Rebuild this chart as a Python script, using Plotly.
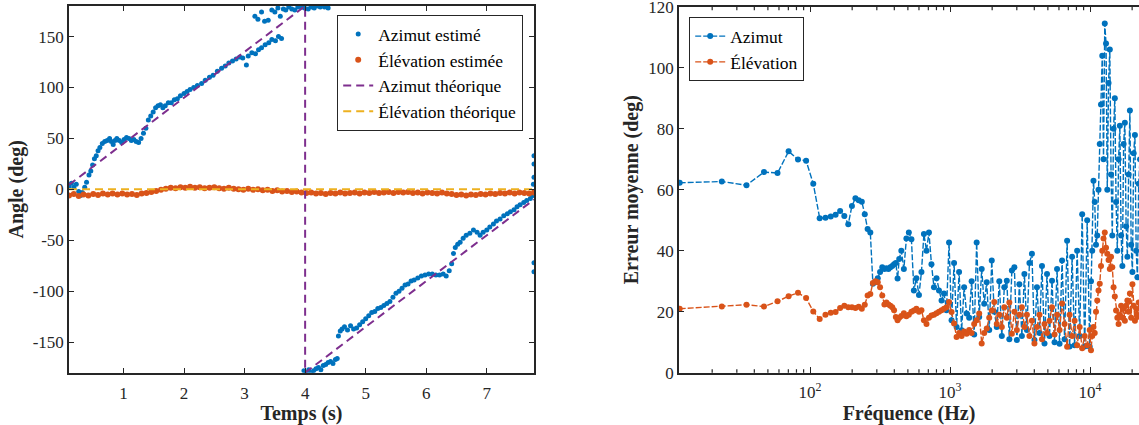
import plotly.graph_objects as go

# ---------------- Left panel data ----------------
az_t = [0.10,0.14,0.18,0.22,0.26,0.29,0.32,0.36,0.39,0.43,0.46,0.49,0.52,0.55,0.58,0.61,0.65,0.69,0.73,0.77,
        0.80,0.83,0.86,0.89,0.93,0.97,1.01,1.05,1.09,1.13,1.17,1.21,1.25,1.29,1.33,1.37,1.41,1.45,1.49,1.53,
        1.57,1.61,1.65,1.69,1.74,1.79,1.84,1.89,1.94,2.00,2.05,2.10,2.16,2.22,2.29,2.35,2.42,2.48,2.55,2.62,
        2.68,2.74,2.80,2.86,2.92,2.97,3.03,3.06,3.12,3.18,3.23,3.28,3.34,3.40,3.45,3.51,3.56,3.61,
        3.17,3.22,3.28,3.33,3.39,3.45,3.50,3.55,3.59,3.64,3.68,3.73,3.78,3.83,3.88,3.94,3.99,4.05,4.10,4.15,
        4.20,4.25,4.32,4.38,
        3.98,4.02,4.06,4.10,4.14,4.18,4.22,4.26,4.30,4.34,4.38,4.42,4.46,4.50,4.53,4.55,4.58,4.61,4.65,4.70,
        4.75,4.80,4.85,4.90,4.95,5.00,5.05,5.10,5.15,5.20,5.25,5.30,5.35,5.40,5.45,5.50,5.55,5.60,5.65,5.70,
        5.75,5.80,5.86,5.92,5.98,6.04,6.10,6.16,6.22,6.28,6.33,6.38,6.42,6.45,6.48,6.52,6.56,6.61,6.66,6.72,
        6.78,6.84,6.89,6.94,7.00,7.05,7.11,7.16,7.22,7.28,7.34,7.39,7.45,7.50,7.55,7.61,7.66,7.72,7.76,7.77,
        7.78,7.78,7.78,7.78,7.78]
az_est = [3,6,2,5,-2,-6,-3,2,7,14,18,24,30,33,38,41,45,47,48,50,
          47,44,48,50,48,46,49,51,50,48,49,47,46,50,55,60,68,72,76,80,
          82,83,80,82,85,85,88,89,92,94,96,98,100,102,104,107,110,112,116,119,
          121,124,126,128,130,129,122,131,134,133,137,139,142,144,147,146,150,148,
          170,167,174,165,166,176,174,178,170,177,176,179,177,176,179,179,178,177,179,178,
          180,179,179,178,
          -178,-180,-177,-180,-178,-176,-175,-177,-173,-172,-170,-169,-171,-167,-166,-144,-139,-137,-135,-138,
          -134,-137,-136,-133,-130,-127,-124,-121,-120,-117,-116,-114,-112,-110,-106,-102,-100,-97,-94,-93,
          -90,-89,-87,-85,-84,-83,-83,-84,-84,-83,-85,-80,-73,-63,-57,-54,-52,-48,-45,-43,
          -40,-42,-45,-42,-40,-37,-34,-31,-29,-26,-24,-22,-20,-17,-15,-13,-11,-9,-6,5,
          12,25,33,-72,-81]

el_t = [0.10,0.18,0.26,0.34,0.42,0.50,0.58,0.66,0.74,0.82,0.90,0.98,1.06,1.14,1.22,1.30,1.38,1.46,1.54,1.62,
        1.70,1.78,1.86,1.94,2.02,2.10,2.18,2.26,2.34,2.42,2.50,2.58,2.66,2.74,2.82,2.90,2.98,3.06,3.14,3.22,
        3.30,3.38,3.46,3.54,3.62,3.70,3.78,3.86,3.94,4.02,4.10,4.18,4.26,4.34,4.42,4.50,4.58,4.66,4.74,4.82,
        4.90,4.98,5.06,5.14,5.22,5.30,5.38,5.46,5.54,5.62,5.70,5.78,5.86,5.94,6.02,6.10,6.18,6.26,6.34,6.42,
        6.50,6.58,6.66,6.74,6.82,6.90,6.98,7.06,7.14,7.22,7.30,7.38,7.46,7.54,7.62,7.70,7.78]
el_est = [-6,-4.5,-6.5,-5,-6,-4.5,-5.5,-4,-5,-4,-5,-4,-5,-4.5,-5.5,-4,-3.5,-2.5,-1.5,-0.5,
          0.5,1.5,1,2,1.5,2.5,1.5,2,1,1.5,2,1,0.5,1.5,0.5,0,-0.5,0.5,-0.5,0,
          -1,-0.5,-1.5,-1,-2,-1.5,-2.5,-2,-3,-3.5,-3,-4,-3.5,-4.5,-3.5,-4,-3,-4,-3.5,-3,
          -4,-3,-3.5,-2.5,-3.5,-3,-2.5,-3.5,-2.5,-3,-2.5,-3.5,-3,-4,-3,-3.5,-4,-3,-4,-4.5,
          -5.5,-5,-6,-5,-5.5,-4.5,-5,-4,-4.5,-3.5,-4,-3,-4,-3,-3.5,-4,-3]

az_th_t = [0.10, 4.00, 4.00, 7.78]
az_th = [4.5, 180, -180, -10]
el_th_t = [0.10, 7.78]
el_th = [0, 0]

left_x_ticks = [1, 2, 3, 4, 5, 6, 7]
left_y_ticks = [-150, -100, -50, 0, 50, 100, 150]
left_y_labels = ["-150", "-100", "-50", "0", "50", "100", "150"]

# ---------------- Right panel data ----------------
freq_hz = [11.72,23.44,35.16,46.88,58.59,70.31,82.03,93.75,105.47,117.19,128.91,140.63,152.34,164.06,175.78,
           187.5,199.22,210.94,222.66,234.38,246.09,257.81,269.53,281.25,292.97,304.69,316.41,328.13,339.84,
           351.56,363.28,375.0,386.72,398.44,410.16,421.88,433.59,
           449,468,488,508,530,552,575,600,625,651,679,707,737,768,801,834,870,906,944,984,
           1026,1069,1114,1161,1210,1261,1314,1370,1427,1488,1550,1616,1684,1755,1829,1906,1987,2070,2158,2249,
           2344,2442,2545,2653,2765,2881,3003,3129,3261,3399,3542,3692,3847,4010,4179,4355,4539,4730,4930,5138,
           5354,5580,5816,6061,6317,6583,6861,7150,7452,7766,8094,8435,8791,9162,9548,9951,
           10160,10371,10589,10808,11035,11264,11500,11739,11985,12234,12490,12750,13017,13288,13566,13849,
           14139,14433,14735,15042,15357,15676,16004,16338,16679,17027,17383,17745,18117,18494,18881,19274,
           19678,20087,20508,20935,21374,21818,22276,22738]
az_err = [62.3,62.7,61.5,65.8,65.5,72.6,69.9,69.5,62.0,50.7,50.8,51.2,51.8,53.0,51.4,
          48.7,54.7,57.2,56.6,56.1,52.0,47.1,46.0,29.2,29.7,31.0,33.0,34.6,34.0,
          34.3,34.0,34.6,35.0,35.6,36.0,30.9,37.3,
          40,34,44,46,43.8,27,31,25.5,33,45.5,40,46,35.6,28,31,27,23.7,26,20.5,42.7,
          17.2,36,15,33,13.9,28,19.4,18,30,12.5,42.7,18.3,34,22.6,29.7,14,36.8,20,15,30,
          12,28,30.2,11,33.5,34.6,10.7,29,12,32.4,14,36,39,10.7,28,13,35,9.6,32.4,12,
          30.2,10,34,9.5,36.8,11,43.3,8.6,38,9,40,12,52,8.6,50,8.5,
          30,40,63,56,42,45,60,75,88,104,70,114.5,108,60,95,106,
          65,45,80,90,56,40,70,81,45,35,75,82,48,38,65,86,
          42,33,72,78,40,31.3,62,70]
el_err = [21.0,21.7,22.3,21.7,23.4,25.1,26.2,24.5,20.1,17.6,19.0,19.7,19.9,21.2,22.0,
          21.5,21.5,21.2,21.6,21.0,22.3,25.3,25.8,29.4,30.0,29.7,28.0,25.3,22.4,
          23.0,22.4,22.0,21.5,20.5,18.3,17.2,18.0,
          18.6,19.5,18.5,19,20,20.4,21,20,20.5,17.2,16,18,18.8,19,19.5,20,20.5,21,21.5,23.2,
          19.9,16.1,11.7,13,12,13.5,12.8,14,13,16,17.2,19.4,9.6,13,14.5,18,20.4,23.2,16,19,
          15,21.5,18,23,12.8,20,14,19,21.5,15,19,12,17,9.6,15,19,11,16,13,17,
          21.5,12.5,19,14,22.7,16,8.5,19,12,17,9,15,8,12,9,14,
          7.4,12,15,13,20,23.7,27,29.2,35,40,44,46,41,39,37,34,
          38,34.6,28,25,20.4,18,16,19,22,18,21,17,22,23.7,20,26,
          18,29,22,17,21,18.3,23,19]

right_x_ticks = [100, 1000, 10000]
right_x_labels = ["10<sup>2</sup>", "10<sup>3</sup>", "10<sup>4</sup>"]
right_x_minor = [20, 30, 40, 50, 60, 70, 80, 90,
                 200, 300, 400, 500, 600, 700, 800, 900,
                 2000, 3000, 4000, 5000, 6000, 7000, 8000, 9000, 20000]
right_y_ticks = [0, 20, 40, 60, 80, 100, 120]

BLUE = "#0072BD"
ORANGE = "#D95319"
PURPLE = "#7E2F8E"
YELLOW = "#EDB120"
AX = "#262626"
FONT = "Liberation Serif"

H = 425.0
L_DOM_Y = [1 - 372.7 / H, 1 - 6 / H]
R_DOM_Y = [1 - 372.7 / H, 1 - 6.7 / H]

fig = go.Figure()

fig.add_trace(go.Scatter(x=az_t, y=az_est, mode="markers", name="Azimut estimé",
                         marker=dict(color=BLUE, size=5), xaxis="x", yaxis="y", legend="legend"))
fig.add_trace(go.Scatter(x=el_t, y=el_est, mode="markers", name="Élévation estimée",
                         marker=dict(color=ORANGE, size=6), xaxis="x", yaxis="y", legend="legend"))
fig.add_trace(go.Scatter(x=az_th_t, y=az_th, mode="lines", name="Azimut théorique",
                         line=dict(color=PURPLE, width=2, dash="8px,5px"), xaxis="x", yaxis="y", legend="legend"))
fig.add_trace(go.Scatter(x=el_th_t, y=el_th, mode="lines", name="Élévation théorique",
                         line=dict(color=YELLOW, width=2, dash="8px,5px"), xaxis="x", yaxis="y", legend="legend"))

fig.add_trace(go.Scatter(x=freq_hz, y=az_err, mode="lines+markers", name="Azimut",
                         line=dict(color=BLUE, width=1.4, dash="6px,2px"), marker=dict(color=BLUE, size=6),
                         xaxis="x2", yaxis="y2", legend="legend2"))
fig.add_trace(go.Scatter(x=freq_hz, y=el_err, mode="lines+markers", name="Élévation",
                         line=dict(color=ORANGE, width=1.4, dash="6px,2px"), marker=dict(color=ORANGE, size=6),
                         xaxis="x2", yaxis="y2", legend="legend2"))

# minor log ticks (bottom and top, pointing inside)
tl = 3.5 / H
shapes = []
for v in right_x_minor:
    shapes.append(dict(type="line", xref="x2", yref="paper", x0=v, x1=v,
                       y0=R_DOM_Y[0], y1=R_DOM_Y[0] + tl, line=dict(color=AX, width=1.2)))
    shapes.append(dict(type="line", xref="x2", yref="paper", x0=v, x1=v,
                       y0=R_DOM_Y[1] - tl, y1=R_DOM_Y[1], line=dict(color=AX, width=1.2)))

common = dict(showline=True, linecolor=AX, linewidth=1.5, ticks="inside", tickwidth=1.2,
              tickcolor=AX, showgrid=False, zeroline=False, ticklabeloverflow="allow",
              automargin=False,
              tickfont=dict(family=FONT, size=17, color=AX))
title_font = dict(family=FONT, size=20, color=AX)

fig.update_layout(
    width=1139, height=425,
    margin=dict(l=0, r=0, t=0, b=0),
    paper_bgcolor="white", plot_bgcolor="white",
    showlegend=True,
    shapes=shapes,
    xaxis=dict(domain=[69/1139, 534/1139], range=[0.1, 7.78], tickvals=left_x_ticks,
               mirror="ticks", anchor="y", ticklen=5, ticklabelstandoff=4,
               title=dict(text="<b>Temps (s)</b>", font=title_font, standoff=5), **common),
    yaxis=dict(domain=L_DOM_Y, range=[-180, 180],
               tickvals=left_y_ticks, ticktext=left_y_labels,
               mirror="ticks", anchor="x", ticklen=5,
               title=dict(text="<b>Angle (deg)</b>", font=title_font, standoff=4), **common),
    xaxis2=dict(domain=[679/1139, 1.0], type="log", range=[1.064, 4.35],
                tickvals=right_x_ticks, ticktext=right_x_labels,
                mirror="ticks", anchor="y2", ticklen=6, ticklabelstandoff=3,
                title=dict(text="<b>Fréquence (Hz)</b>", font=title_font, standoff=3), **common),
    yaxis2=dict(domain=R_DOM_Y, range=[0, 120.05], tickvals=right_y_ticks,
                mirror=False, anchor="x2", ticklen=5,
                title=dict(text="<b>Erreur moyenne (deg)</b>", font=title_font, standoff=4), **common),
    legend=dict(x=523/1139, y=1-15/H, xanchor="right", yanchor="top",
                bgcolor="white", bordercolor=AX, borderwidth=1.2,
                font=dict(family=FONT, size=17.5, color="black"), tracegroupgap=0, itemwidth=30),
    legend2=dict(x=689/1139, y=1-17/H, xanchor="left", yanchor="top",
                 bgcolor="white", bordercolor=AX, borderwidth=1.2,
                 font=dict(family=FONT, size=17.5, color="black"), tracegroupgap=0, itemwidth=30),
)

fig.write_html("out.html")
